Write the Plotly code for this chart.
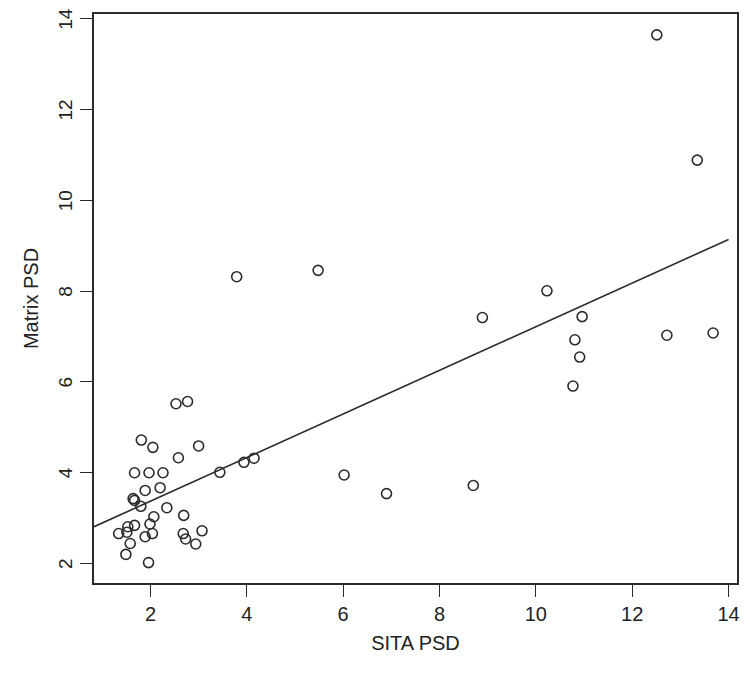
import plotly.graph_objects as go

sita_psd = [1.81, 2.05, 3.00, 2.58, 1.67, 1.97, 2.26, 3.44, 3.94, 4.15,
            1.89, 2.20, 1.64, 1.67, 1.80, 2.34, 2.07, 2.69, 1.67, 1.53,
            1.99, 1.34, 1.51, 3.07, 2.04, 1.89, 2.68, 2.73, 2.94, 1.58,
            1.49, 1.96, 2.53, 2.77, 3.79, 5.48, 8.89, 6.02, 6.90, 8.70,
            12.51, 13.35, 10.23, 10.96, 10.81, 10.91, 10.77, 12.72, 13.68]
matrix_psd = [4.72, 4.56, 4.59, 4.33, 4.00, 4.00, 4.00, 4.01, 4.23, 4.32,
              3.61, 3.67, 3.43, 3.39, 3.26, 3.23, 3.03, 3.06, 2.84, 2.81,
              2.87, 2.66, 2.69, 2.72, 2.66, 2.59, 2.66, 2.54, 2.43, 2.44,
              2.20, 2.02, 5.52, 5.57, 8.32, 8.46, 7.42, 3.95, 3.54, 3.72,
              13.65, 10.89, 8.01, 7.44, 6.93, 6.55, 5.91, 7.03, 7.08]

fit_intercept = 2.412
fit_slope = 0.4807
fit_x = [0.828, 14.0]
fit_y = [fit_intercept + fit_slope * v for v in fit_x]

x_ticks = [2, 4, 6, 8, 10, 12, 14]
y_ticks = [2, 4, 6, 8, 10, 12, 14]

ink = "#2b2b2b"
font = dict(family="Liberation Sans, Arial, sans-serif", size=20, color="#222222")
ytick_font = dict(family="Liberation Sans, Arial, sans-serif", size=19, color="#222222")

fig = go.Figure()
fig.add_trace(go.Scatter(
    x=fit_x, y=fit_y, mode="lines",
    line=dict(color=ink, width=1.6), showlegend=False, hoverinfo="skip"))
fig.add_trace(go.Scatter(
    x=sita_psd, y=matrix_psd, mode="markers",
    marker=dict(symbol="circle-open", size=10, color=ink, line=dict(width=1.6, color=ink)),
    showlegend=False))

# page body has an 8px margin, so the figure is offset by 8px in x and y
fig.update_layout(
    width=742, height=666, autosize=False,
    margin=dict(l=86, r=13, t=6, b=90.5),
    paper_bgcolor="white", plot_bgcolor="white",
    font=font,
    xaxis=dict(
        range=[0.828, 14.175], tickvals=x_ticks, ticktext=[str(v) for v in x_ticks],
        showgrid=False, zeroline=False, showline=True, mirror=True, automargin=False,
        linecolor=ink, linewidth=1.6, ticks="outside", ticklen=12, tickwidth=1.3,
        tickcolor=ink, ticklabelstandoff=0, ticklabeloverflow="allow",
        title=dict(text="SITA PSD", standoff=12, font=font)),
    yaxis=dict(
        range=[1.570, 14.11], tickvals=y_ticks, ticktext=[str(v) for v in y_ticks],
        showgrid=False, zeroline=False, showline=True, mirror=True, automargin=False,
        linecolor=ink, linewidth=1.6, ticks="outside", ticklen=12, tickwidth=1.3,
        tickcolor=ink, tickangle=-90, ticklabelstandoff=1, ticklabeloverflow="allow",
        ticklabelshift=3, tickfont=ytick_font,
        title=dict(text="Matrix PSD", standoff=11, font=font)),
)

fig.write_html("out.html")
